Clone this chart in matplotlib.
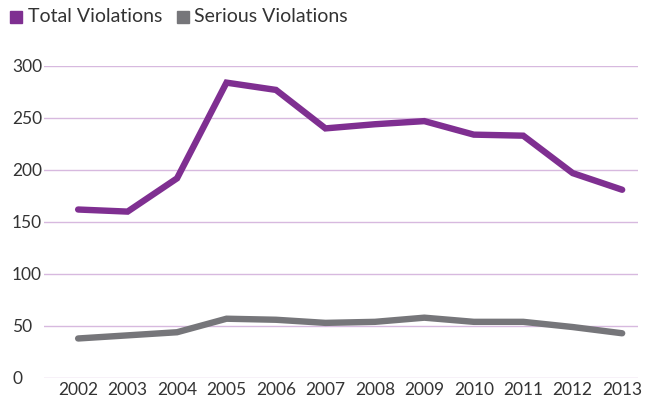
import matplotlib.pyplot as plt
from matplotlib.patches import Rectangle

# data
years = [2002, 2003, 2004, 2005, 2006, 2007, 2008, 2009, 2010, 2011, 2012, 2013]
total_violations = [162, 160, 192, 284, 277, 240, 244, 247, 234, 233, 197, 181]
serious_violations = [38, 41, 44, 57, 56, 53, 54, 58, 54, 54, 49, 43]
y_ticks = [0, 50, 100, 150, 200, 250, 300]

purple = '#7f2f91'
gray = '#76767a'
grid_color = '#d7b9df'
text_color = '#333333'

plt.rcParams['font.family'] = ['Lato', 'DejaVu Sans']

fig = plt.figure(figsize=(6.49, 4.0), dpi=100)
ax = fig.add_axes([44/649, 1-378/400, (638-44)/649, (378-66)/400])

ax.plot(years, total_violations, color=purple, lw=4.6, solid_capstyle='round',
        solid_joinstyle='miter', clip_on=False, zorder=3)
ax.plot(years, serious_violations, color=gray, lw=4.6, solid_capstyle='round',
        solid_joinstyle='miter', clip_on=False, zorder=3)

ax.set_xlim(2001.31, 2013.32)
ax.set_ylim(0, 300)
ax.set_yticks(y_ticks)
ax.set_xticks(years)
ax.set_xticklabels([str(y) for y in years])
for y in y_ticks:
    ax.axhline(y, color=grid_color, lw=1, zorder=1)

for s in ax.spines.values():
    s.set_visible(False)
ax.tick_params(axis='both', length=0, labelsize=12.5, colors=text_color)
ax.tick_params(axis='y', pad=23)
ax.tick_params(axis='x', pad=3)
for lbl in ax.get_yticklabels():
    lbl.set_horizontalalignment('left')

# legend across the top
fig.patches.append(Rectangle((10/649, 1-23/400), 12/649, 12/400,
                             transform=fig.transFigure, color=purple))
fig.text(28/649, 1-17/400, 'Total Violations', fontsize=14, color=text_color,
         va='center', ha='left')
fig.patches.append(Rectangle((177/649, 1-23/400), 12/649, 12/400,
                             transform=fig.transFigure, color=gray))
fig.text(194/649, 1-17/400, 'Serious Violations', fontsize=14, color=text_color,
         va='center', ha='left')

fig.savefig('out.png', dpi=100)
